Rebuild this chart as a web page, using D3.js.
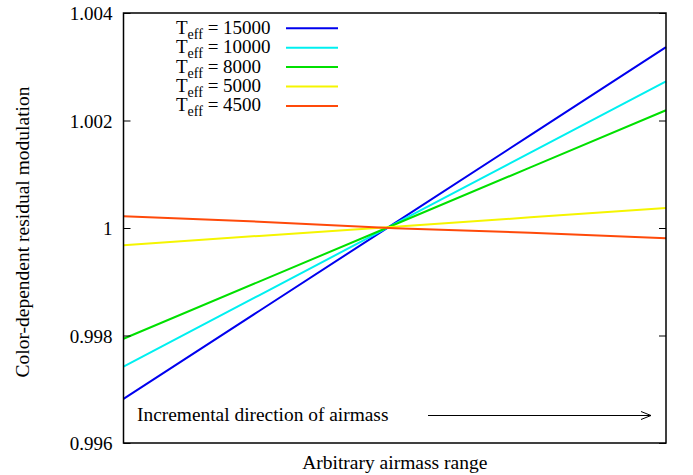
<!DOCTYPE html>
<html>
<head>
<meta charset="utf-8">
<script src="https://cdn.jsdelivr.net/npm/d3@7"></script>
<style>
  html, body { margin: 0; padding: 0; background: #fff; }
  svg { display: block; font-family: "Liberation Serif", "Times New Roman", "DejaVu Serif", serif; }
  text { font-family: "Liberation Serif", "Times New Roman", "DejaVu Serif", serif; fill: #000; }
</style>
</head>
<body>
<svg id="chart" width="693" height="475"></svg>
<script>
// Relative airmass position across the plotted range
const airmass = [0, 0.25, 0.5, 0.75, 1];

// Residual modulation for each effective temperature
const temps = ["15000", "10000", "8000", "5000", "4500"];
const mod15000 = [0.99682, 0.998456, 1.000092, 1.001728, 1.003364];
const mod10000 = [0.99742, 0.998748, 1.000075, 1.001403, 1.00273];
const mod8000  = [0.99794, 0.999003, 1.000065, 1.001128, 1.00219];
const mod5000  = [0.99968, 0.999853, 1.000025, 1.000198, 1.00037];
const mod4500  = [1.00022, 1.000118, 0.999995, 0.999913, 0.99981];
const colors = ["#0000ee", "#00f0f0", "#00e000", "#f5f500", "#ff4a0a"];

const yTicks = [0.996, 0.998, 1, 1.002, 1.004];
const yTickLabels = ["0.996", "0.998", "1", "1.002", "1.004"];

const seriesValues = [mod15000, mod10000, mod8000, mod5000, mod4500];
const series = temps.map((t, i) => ({
  temp: t,
  color: colors[i],
  points: airmass.map((a, j) => ({ x: a, y: seriesValues[i][j] }))
}));

const svg = d3.select("#chart");
const m = { left: 123.5, right: 666, top: 13, bottom: 443 };

const x = d3.scaleLinear().domain([0, 1]).range([m.left, m.right]);
const y = d3.scaleLinear().domain([0.996, 1.004]).range([m.bottom, m.top]);

// Data lines
const line = d3.line().x(d => x(d.x)).y(d => y(d.y));
svg.append("g").selectAll("path")
  .data(series)
  .join("path")
  .attr("d", d => line(d.points))
  .attr("fill", "none")
  .attr("stroke", d => d.color)
  .attr("stroke-width", 2);

// Left axis with inward ticks
const fmt = v => yTickLabels[yTicks.indexOf(v)];
const leftAxis = d3.axisLeft(y).tickValues(yTicks).tickFormat(fmt).tickSizeInner(-7).tickSizeOuter(0).tickPadding(11);
const gL = svg.append("g").attr("transform", `translate(${m.left},0)`).call(leftAxis)
  .attr("font-family", null).attr("font-size", null);
gL.select(".domain").remove();
gL.selectAll(".tick line").attr("stroke", "#000").attr("stroke-width", 1);
gL.selectAll(".tick text").attr("font-size", 19).attr("dy", "0.35em");

// Right axis mirror ticks without labels
const rightAxis = d3.axisRight(y).tickValues(yTicks).tickFormat("").tickSizeInner(-7).tickSizeOuter(0);
const gR = svg.append("g").attr("transform", `translate(${m.right},0)`).call(rightAxis);
gR.select(".domain").remove();
gR.selectAll(".tick line").attr("stroke", "#000").attr("stroke-width", 1);

// Plot frame
svg.append("rect")
  .attr("x", m.left).attr("y", m.top)
  .attr("width", m.right - m.left).attr("height", m.bottom - m.top)
  .attr("fill", "none").attr("stroke", "#000").attr("stroke-width", 1.5);

// Legend
const legend = svg.append("g");
const legRow = legend.selectAll("g")
  .data(series)
  .join("g")
  .attr("transform", (d, i) => `translate(0,${28.3 + i * 19.4})`);
const lt = legRow.append("text")
  .attr("x", 176).attr("y", 5.5)
  .attr("font-size", 19);
lt.append("tspan").text("T");
lt.append("tspan").attr("font-size", 14).attr("dy", 5).text("eff");
lt.append("tspan").attr("dy", -5).text(d => " = " + d.temp);
legRow.append("line")
  .attr("x1", 286).attr("x2", 338)
  .attr("y1", 0).attr("y2", 0)
  .attr("stroke", d => d.color)
  .attr("stroke-width", 2);

// Direction annotation with arrow
svg.append("text")
  .attr("x", 137).attr("y", 421)
  .attr("font-size", 19.4)
  .text("Incremental direction of airmass");
svg.append("line")
  .attr("x1", 428).attr("x2", 651)
  .attr("y1", 415.5).attr("y2", 415.5)
  .attr("stroke", "#000").attr("stroke-width", 1);
svg.append("path")
  .attr("d", "M641,411.5 L651,415.5 L641,419.5")
  .attr("fill", "none").attr("stroke", "#000").attr("stroke-width", 1);

// Axis titles
svg.append("text")
  .attr("x", (m.left + m.right) / 2).attr("y", 469)
  .attr("text-anchor", "middle")
  .attr("font-size", 19.5)
  .text("Arbitrary airmass range");
svg.append("text")
  .attr("transform", `translate(29,${(m.top + m.bottom) / 2 + 4}) rotate(-90)`)
  .attr("text-anchor", "middle")
  .attr("font-size", 19.5)
  .text("Color-dependent residual modulation");
</script>
</body>
</html>
